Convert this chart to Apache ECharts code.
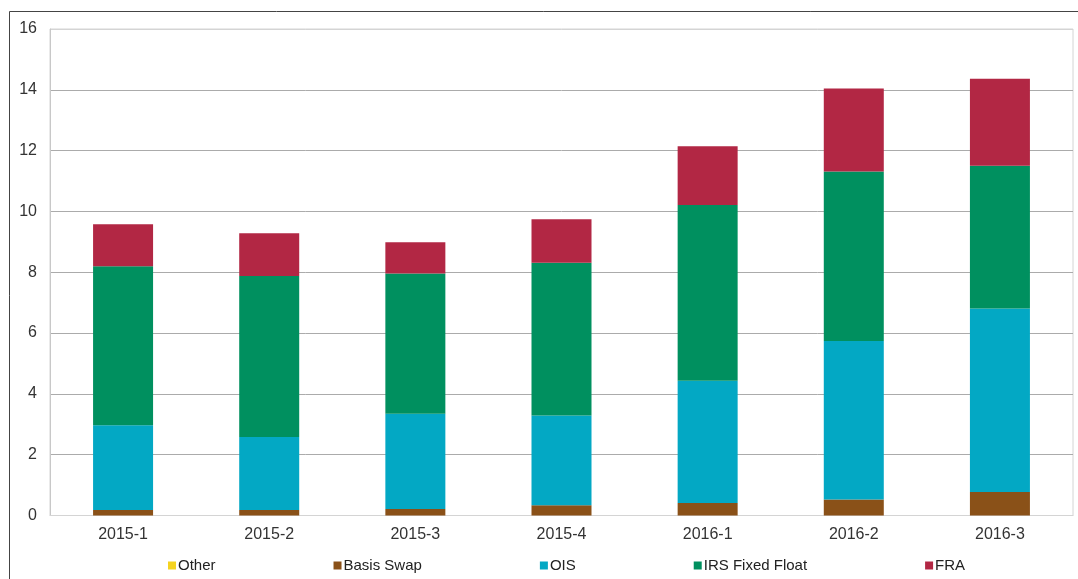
<!DOCTYPE html>
<html>
<head>
<meta charset="utf-8">
<script src="https://cdn.jsdelivr.net/npm/echarts@6/dist/echarts.min.js"></script>
<style>
html,body{margin:0;padding:0;background:#fff;}
#chart{width:1078px;height:579px;}
</style>
</head>
<body>
<div id="chart"></div>
<script>
const categories = ['2015-1','2015-2','2015-3','2015-4','2016-1','2016-2','2016-3'];
const other      = [0, 0, 0, 0, 0, 0, 0];
const basisSwap  = [0.18, 0.18, 0.21, 0.34, 0.41, 0.53, 0.77];
const ois        = [2.79, 2.40, 3.14, 2.95, 4.02, 5.21, 6.04];
const irsFixed   = [5.23, 5.30, 4.61, 5.02, 5.78, 5.57, 4.69];
const fra        = [1.38, 1.40, 1.03, 1.43, 1.93, 2.73, 2.86];
const yTicks     = [0, 2, 4, 6, 8, 10, 12, 14, 16];

const seriesNames  = ['Other','Basis Swap','OIS','IRS Fixed Float','FRA'];
const seriesData   = [other, basisSwap, ois, irsFixed, fra];
const seriesColors = ['#F5D320','#8A5118','#03A8C4','#00905F','#B22744'];

const chart = echarts.init(document.getElementById('chart'), null, {renderer:'canvas'});
const font = 'Liberation Sans, Arial, sans-serif';

chart.setOption({
  animation: false,
  backgroundColor: '#fff',
  grid: {left: 50, right: 5, top: 29, bottom: 63.5, show: true, borderColor: '#d4d4d4', borderWidth: 1},
  legend: {
    data: seriesNames,
    left: 163, top: 553,
    itemWidth: 8, itemHeight: 8, itemGap: 118,
    icon: 'rect',
    textStyle: {fontFamily: font, fontSize: 15, color: '#222', padding: [0,0,0,-3]},
  },
  xAxis: {
    type: 'category', data: categories,
    axisLine: {lineStyle: {color: '#d4d4d4'}},
    axisTick: {show: false},
    axisLabel: {fontFamily: font, fontSize: 16, color: '#333', margin: 11},
  },
  yAxis: {
    type: 'value', min: 0, max: 16, interval: 2,
    axisLine: {show: true, lineStyle: {color: '#c8c8c8'}},
    axisTick: {show: false},
    axisLabel: {fontFamily: font, fontSize: 16, color: '#333', margin: 13,
      formatter: v => yTicks.includes(v) ? String(v) : ''},
    splitLine: {lineStyle: {color: ['#d4d4d4','#ababab','#ababab','#ababab','#ababab','#ababab','#ababab','#ababab','#d4d4d4'], width: 1}},
  },
  graphic: [
    {type: 'line', shape: {x1: 9.5, y1: 11.5, x2: 1078, y2: 11.5}, style: {stroke: '#444', lineWidth: 1}, silent: true},
    {type: 'line', shape: {x1: 9.5, y1: 11.5, x2: 9.5, y2: 579}, style: {stroke: '#444', lineWidth: 1}, silent: true},
  ],
  series: seriesNames.map((n, i) => ({
    name: n, type: 'bar', stack: 'total', data: seriesData[i],
    barWidth: 60,
    itemStyle: {color: seriesColors[i]},
  })),
});
</script>
</body>
</html>
